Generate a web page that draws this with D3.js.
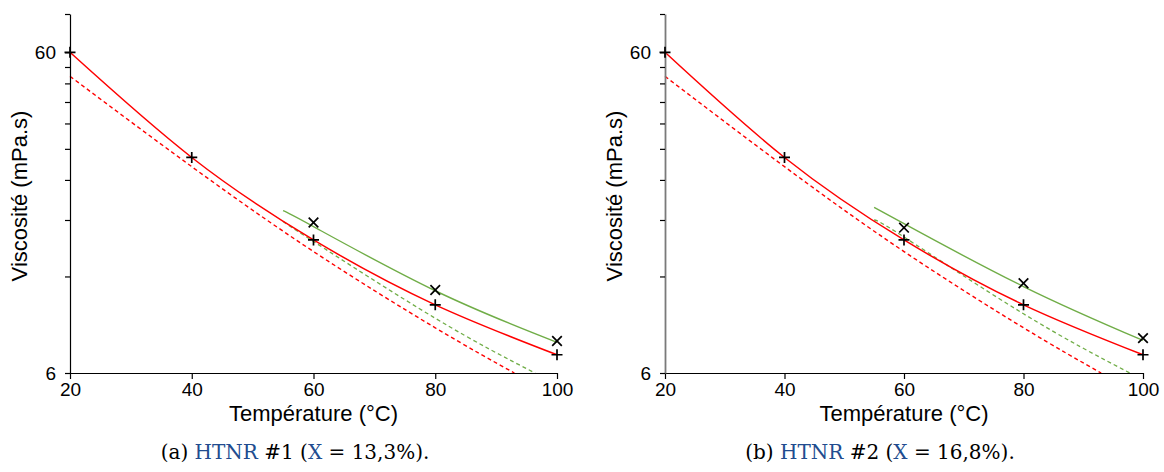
<!DOCTYPE html>
<html>
<head>
<meta charset="utf-8">
<script src="https://cdn.jsdelivr.net/npm/d3@7"></script>
<style>
  html, body { margin: 0; padding: 0; background: #fff; }
  svg { display: block; }
  .tick text { font-family: "Liberation Sans", Arial, sans-serif; font-size: 19px; fill: #000; }
  .atitle { font-family: "Liberation Sans", Arial, sans-serif; font-size: 22px; fill: #000; }
  .caption { font-family: "DejaVu Serif", serif; font-size: 20px; fill: #000; }
</style>
</head>
<body>
<svg id="chart" width="1164" height="472"></svg>
<script>
// ---------- data ----------
const xTicks = [20, 40, 60, 80, 100];
const yTicks = [6, 12, 18, 24, 30, 36, 42, 48, 54, 60, 79];
const yTickLabels = ["6", "", "", "", "", "", "", "", "", "60", ""];

// measured points (+), identical in both panels
const plusTemps = [20, 40, 60, 80, 100];
const plusValues = [60, 28.2, 15.6, 9.79, 6.84];

// measured points (x)
const crossTemps = [60, 80, 100];
const crossValuesA = [17.68, 10.89, 7.55];
const crossValuesB = [17.03, 11.43, 7.71];

// red solid fit
const redFitTemps = [20, 40, 60, 80, 100];
const redFitValues = [60, 28.2, 15.6, 9.79, 6.84];
// red dashed prediction
const redPredTemps = [20, 40, 60, 80, 93];
const redPredValues = [50.5, 26.4, 14.35, 8.3, 6.0];

// green solid fit
const greenFitTemps = [55, 60, 80, 100];
const greenFitValuesA = [19.24, 17.16, 10.83, 7.48];
const greenFitValuesB = [19.71, 17.53, 11.16, 7.58];
// green dashed prediction
const greenPredTempsA = [55, 60, 80, 96.4];
const greenPredValuesA = [17.8, 15.43, 8.89, 6.0];
const greenPredTempsB = [55, 60, 80, 97.8];
const greenPredValuesB = [18.0, 15.93, 9.18, 6.0];

const captionA = [["(a) ", false], ["HTNR", true], [" #1 (", false], ["X", true], [" = 13,3%).", false]];
const captionB = [["(b) ", false], ["HTNR", true], [" #2 (", false], ["X", true], [" = 16,8%).", false]];

// ---------- drawing ----------
const RED = "#ff0000", GREEN = "#70ad47", BLUE = "#214c8f";
const svg = d3.select("#chart");

function zip(ts, vs) { return ts.map((t, i) => [t, vs[i]]); }

function panel(opts) {
  const x = d3.scaleLinear().domain([20, 100]).range([opts.x0, opts.x1]);
  const y = d3.scaleLog().domain([6, 79]).range([373, 14]);
  const g = svg.append("g");

  const line = d3.line().x(d => x(d[0])).y(d => y(d[1])).curve(d3.curveNatural);

  const series = [
    { d: zip(redPredTemps, redPredValues), c: RED, dash: "4,3", w: 1.4 },
    { d: zip(opts.gpT, opts.gpV), c: GREEN, dash: "4,3", w: 1.3 },
    { d: zip(redFitTemps, redFitValues), c: RED, dash: null, w: 1.5 },
    { d: zip(greenFitTemps, opts.gfV), c: GREEN, dash: null, w: 1.4 }
  ];
  series.forEach(s => {
    g.append("path").attr("d", line(s.d)).attr("fill", "none")
      .attr("stroke", s.c).attr("stroke-width", s.w)
      .attr("stroke-dasharray", s.dash);
  });

  // axes
  const ax = g.append("g").attr("transform", `translate(0,373)`)
    .call(d3.axisBottom(x).tickValues(xTicks).tickSize(6).tickSizeOuter(0).tickPadding(4));
  const ay = g.append("g").attr("transform", `translate(${opts.x0},0)`)
    .call(d3.axisLeft(y).tickValues(yTicks).tickFormat((d, i) => yTickLabels[i]).tickSize(5).tickSizeOuter(0).tickPadding(9));
  [ax, ay].forEach(a => {
    a.selectAll("path.domain").attr("stroke", "#000").attr("stroke-width", 1.2);
    a.selectAll(".tick line").attr("stroke", "#000").attr("stroke-width", 1.2);
  });
  if (opts.grayAxis) ay.select("path.domain").attr("stroke", "#7a7a7a").attr("stroke-width", 1.8);

  // markers +
  g.selectAll(".plus").data(zip(plusTemps, plusValues)).join("path")
    .attr("d", d => { const px = x(d[0]), py = y(d[1]); return `M${px-5.5},${py}H${px+5.5}M${px},${py-5.5}V${py+5.5}`; })
    .attr("stroke", "#000").attr("stroke-width", 1.7).attr("fill", "none");
  // markers x
  g.selectAll(".cross").data(zip(crossTemps, opts.cV)).join("path")
    .attr("d", d => { const px = x(d[0]), py = y(d[1]); const r = 4.8; return `M${px-r},${py-r}L${px+r},${py+r}M${px-r},${py+r}L${px+r},${py-r}`; })
    .attr("stroke", "#000").attr("stroke-width", 1.7).attr("fill", "none");

  // titles
  g.append("text").attr("class", "atitle").attr("x", (opts.x0 + opts.x1) / 2).attr("y", 421)
    .attr("text-anchor", "middle").text("Température (°C)");
  g.append("text").attr("class", "atitle").attr("transform", `translate(${opts.x0 - 43},196) rotate(-90)`)
    .attr("text-anchor", "middle").text("Viscosité (mPa.s)");

  // caption
  const cap = g.append("text").attr("class", "caption").attr("x", opts.capX).attr("y", 459).attr("text-anchor", "middle");
  opts.caption.forEach(([t, blue]) => cap.append("tspan").attr("fill", blue ? BLUE : "#000").text(t));
}

panel({ x0: 70, x1: 557, cV: crossValuesA, gfV: greenFitValuesA, gpT: greenPredTempsA, gpV: greenPredValuesA,
        caption: captionA, capX: 295, grayAxis: false });
panel({ x0: 665, x1: 1143, cV: crossValuesB, gfV: greenFitValuesB, gpT: greenPredTempsB, gpV: greenPredValuesB,
        caption: captionB, capX: 880, grayAxis: true });
</script>
</body>
</html>
